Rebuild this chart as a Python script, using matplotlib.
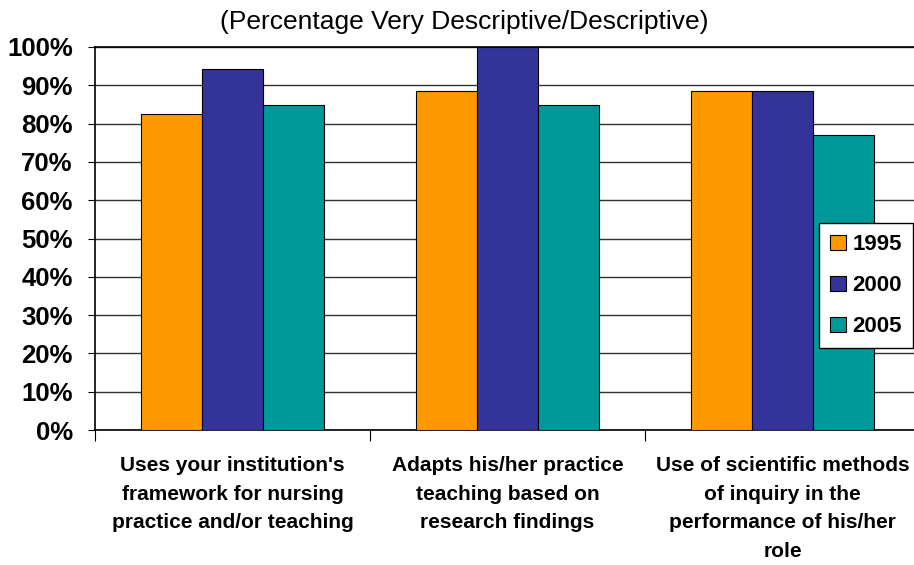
import matplotlib.pyplot as plt
import numpy as np

categories = ["Uses your institution's\nframework for nursing\npractice and/or teaching",
              "Adapts his/her practice\nteaching based on\nresearch findings",
              "Use of scientific methods\nof inquiry in the\nperformance of his/her\nrole"]
years = ['1995', '2000', '2005']
v1995 = [82.5, 88.4, 88.4]
v2000 = [94.3, 100.0, 88.4]
v2005 = [84.9, 84.9, 77.0]
yticks = [0, 10, 20, 30, 40, 50, 60, 70, 80, 90, 100]
colors = ['#FF9900', '#333399', '#009999']

plt.rcParams['font.family'] = ['Liberation Sans', 'DejaVu Sans']

fig = plt.figure(figsize=(9.14, 5.65), dpi=100)
ax = fig.add_axes([95 / 914, 135 / 565, 825 / 914, 383 / 565])

x = np.arange(len(categories))
w = 0.222
for i, vals in enumerate([v1995, v2000, v2005]):
    ax.bar(x + (i - 1) * w, vals, w, color=colors[i], edgecolor='black',
           linewidth=0.8, label=years[i], zorder=3)

ax.set_ylim(0, 100)
ax.set_xlim(-0.5, 2.5)
ax.set_yticks(yticks)
ax.set_yticklabels([f'{t}%' for t in yticks], fontsize=18.5, fontweight='bold')
ax.yaxis.grid(True, color='#333333', linewidth=1.0, zorder=0)
ax.set_xticks([-0.5, 0.5, 1.5, 2.5])
ax.set_xticklabels([])
ax.set_xticks(x, minor=True)
ax.set_xticklabels(categories, minor=True, fontsize=15, fontweight='bold',
                   linespacing=1.63)
ax.tick_params(axis='x', which='minor', length=0, pad=19)
ax.tick_params(axis='x', which='major', length=8, direction='out', color='black')
ax.tick_params(axis='y', length=5, direction='out', color='black', pad=11)

for s in ['left', 'top', 'bottom']:
    ax.spines[s].set_color('black')
    ax.spines[s].set_linewidth(1.2)
ax.spines['right'].set_visible(False)

fig.text(464 / 914, 1 - 22 / 565, '(Percentage Very Descriptive/Descriptive)',
         ha='center', va='center', fontsize=19)

leg = ax.legend(loc='upper left', bbox_to_anchor=(819 / 914, 1 - 223 / 565),
                bbox_transform=fig.transFigure, fancybox=False,
                framealpha=1, edgecolor='black', handlelength=0.7,
                handleheight=0.7, handletextpad=0.3, labelspacing=0.9,
                borderpad=0.5, borderaxespad=0,
                prop={'weight': 'bold', 'size': 16})
leg.get_frame().set_linewidth(1.0)

fig.savefig('out.png', dpi=100)
